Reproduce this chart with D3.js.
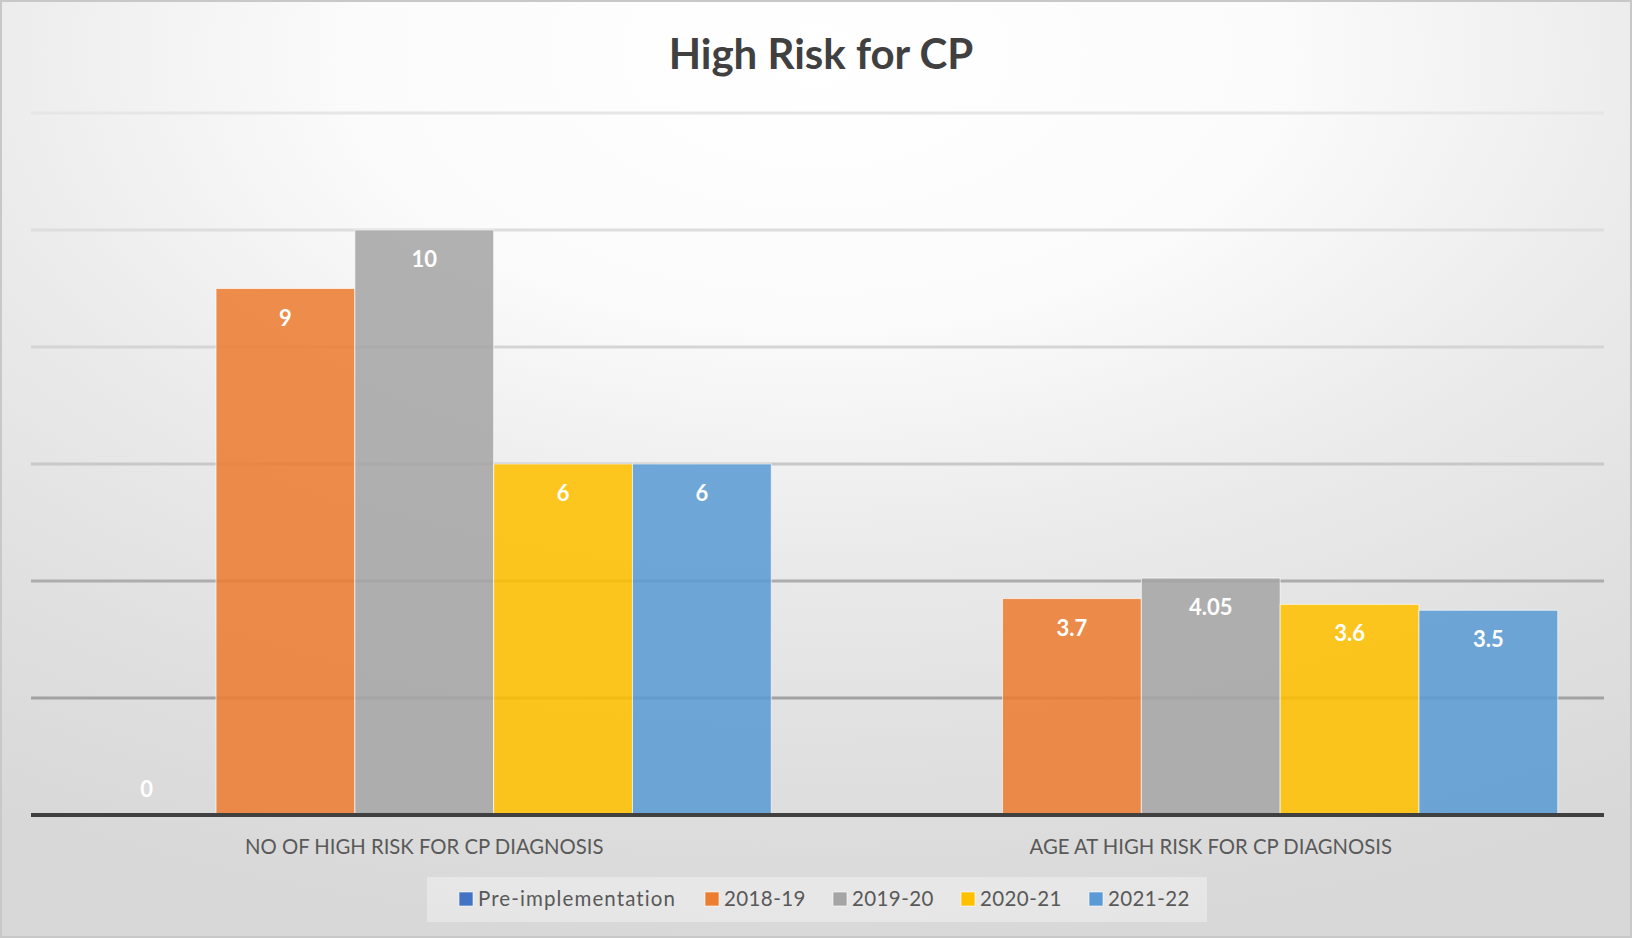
<!DOCTYPE html>
<html>
<head>
<meta charset="utf-8">
<script src="https://cdn.jsdelivr.net/npm/d3@7"></script>
<style>
  html, body { margin: 0; padding: 0; background: #ffffff; }
  svg { display: block; }
</style>
</head>
<body>
<svg id="chart" width="1632" height="938"></svg>
<script>
// Chart data
const categories = ["NO OF HIGH RISK FOR CP DIAGNOSIS", "AGE AT HIGH RISK FOR CP DIAGNOSIS"];
const seriesNames = ["Pre-implementation", "2018-19", "2019-20", "2020-21", "2021-22"];
const seriesColors = ["#4472C4", "#ED7D31", "#A5A5A5", "#FFC000", "#5B9BD5"];
// one array per series, one value per category (null = no value)
const preImplementation = [0, null];
const y2018_19 = [9, 3.7];
const y2019_20 = [10, 4.05];
const y2020_21 = [6, 3.6];
const y2021_22 = [6, 3.5];
const yTicks = [0, 2, 4, 6, 8, 10, 12];
const titleText = "High Risk for CP";

const seriesValues = [preImplementation, y2018_19, y2019_20, y2020_21, y2021_22];

const W = 1632, H = 938;
const svg = d3.select("#chart");
const defs = svg.append("defs");

// soft radial backdrop, bright near the title and greyer towards the corners
const bg = defs.append("radialGradient").attr("id", "bgGrad")
  .attr("cx", "50%").attr("cy", "6%").attr("r", "95%").attr("fx", "50%").attr("fy", "6%");
[[0, "#ffffff"], [0.3, "#fbfbfb"], [0.55, "#ebebeb"], [0.78, "#e0e0e0"], [1, "#d8d8d8"]]
  .forEach(([o, c]) => bg.append("stop").attr("offset", o).attr("stop-color", c));

// gridlines fade from pale at the top to darker near the axis
const gg = defs.append("linearGradient").attr("id", "gridGrad")
  .attr("gradientUnits", "userSpaceOnUse").attr("x1", 0).attr("x2", 0).attr("y1", 113).attr("y2", 815);
[[0, "#e6e6e6"], [0.35, "#d4d4d4"], [0.55, "#c4c4c4"], [0.7, "#a6a6a6"], [1, "#9c9c9c"]]
  .forEach(([o, c]) => gg.append("stop").attr("offset", o).attr("stop-color", c));

svg.append("rect").attr("x", 0).attr("y", 0).attr("width", W).attr("height", H).attr("fill", "url(#bgGrad)");
svg.append("rect").attr("x", 1).attr("y", 1).attr("width", W - 2).attr("height", H - 2)
  .attr("fill", "none").attr("stroke", "#c8c8c8").attr("stroke-width", 2);

const font = "Lato, 'Open Sans', 'Noto Sans', sans-serif";

// Title
svg.append("text")
  .attr("x", 821).attr("y", 69)
  .attr("text-anchor", "middle")
  .attr("font-family", font).attr("font-weight", 700).attr("font-size", 42)
  .attr("fill", "#404040")
  .text(titleText);

// Scales
const plotLeft = 31, plotRight = 1604, plotTop = 113, plotBottom = 815;
const y = d3.scaleLinear().domain([0, 12]).range([plotBottom, plotTop]);
const x0 = d3.scaleBand().domain(categories).range([plotLeft, plotRight]).paddingInner(0).paddingOuter(0);
const x1 = d3.scaleBand().domain(seriesNames).range([0, x0.bandwidth()]).paddingInner(0).paddingOuter(0.333);

// Gridlines
svg.append("g").selectAll("line")
  .data(yTicks.filter(t => t > 0))
  .join("line")
  .attr("x1", plotLeft).attr("x2", plotRight)
  .attr("y1", d => y(d)).attr("y2", d => y(d))
  .attr("stroke", "url(#gridGrad)").attr("stroke-width", 3);

// Bars
const barData = [];
categories.forEach((c, ci) => {
  seriesNames.forEach((s, si) => {
    const v = seriesValues[si][ci];
    if (v !== null && v !== undefined) barData.push({ c, s, v, color: seriesColors[si] });
  });
});

const bars = svg.append("g");
bars.selectAll("rect")
  .data(barData)
  .join("rect")
  .attr("x", d => x0(d.c) + x1(d.s))
  .attr("y", d => y(d.v))
  .attr("width", x1.bandwidth())
  .attr("height", d => y(0) - y(d.v))
  .attr("fill", d => d.color)
  .attr("fill-opacity", 0.87)
  .attr("stroke", "rgba(255,255,255,0.65)")
  .attr("stroke-width", 1);

// Value labels, inside the top end of each bar
const fmt = v => String(v);
bars.selectAll("text")
  .data(barData)
  .join("text")
  .attr("x", d => x0(d.c) + x1(d.s) + x1.bandwidth() / 2)
  .attr("y", d => Math.min(y(d.v) + 37, y(0) - 18))
  .attr("text-anchor", "middle")
  .attr("font-family", font).attr("font-weight", 700).attr("font-size", 22)
  .attr("fill", "#ffffff")
  .text(d => fmt(d.v));

// Category axis
svg.append("line")
  .attr("x1", plotLeft).attr("x2", plotRight)
  .attr("y1", y(0)).attr("y2", y(0))
  .attr("stroke", "#404040").attr("stroke-width", 4);

svg.append("g").selectAll("text")
  .data(categories)
  .join("text")
  .attr("x", d => x0(d) + x0.bandwidth() / 2)
  .attr("y", 854)
  .attr("text-anchor", "middle")
  .attr("font-family", font).attr("font-size", 20.3)
  .attr("fill", "#595959")
  .text(d => d);

// Legend
const legendItemsX = [459, 705, 833, 961, 1089];
const legend = svg.append("g");
legend.append("rect")
  .attr("x", 427).attr("y", 877).attr("width", 780).attr("height", 45)
  .attr("fill", "rgba(255,255,255,0.35)");
const li = legend.selectAll("g.item")
  .data(seriesNames)
  .join("g").attr("class", "item")
  .attr("transform", (d, i) => `translate(${legendItemsX[i]},0)`);
li.append("rect")
  .attr("x", 0).attr("y", 892).attr("width", 14).attr("height", 14)
  .attr("fill", (d, i) => seriesColors[i])
  .attr("stroke", "rgba(255,255,255,0.6)").attr("stroke-width", 1);
li.append("text")
  .attr("x", 19).attr("y", 906)
  .attr("font-family", font).attr("font-size", 20.5)
  .attr("letter-spacing", (d, i) => i === 0 ? 1.1 : 0.4)
  .attr("fill", "#595959")
  .text(d => d);
</script>
</body>
</html>
